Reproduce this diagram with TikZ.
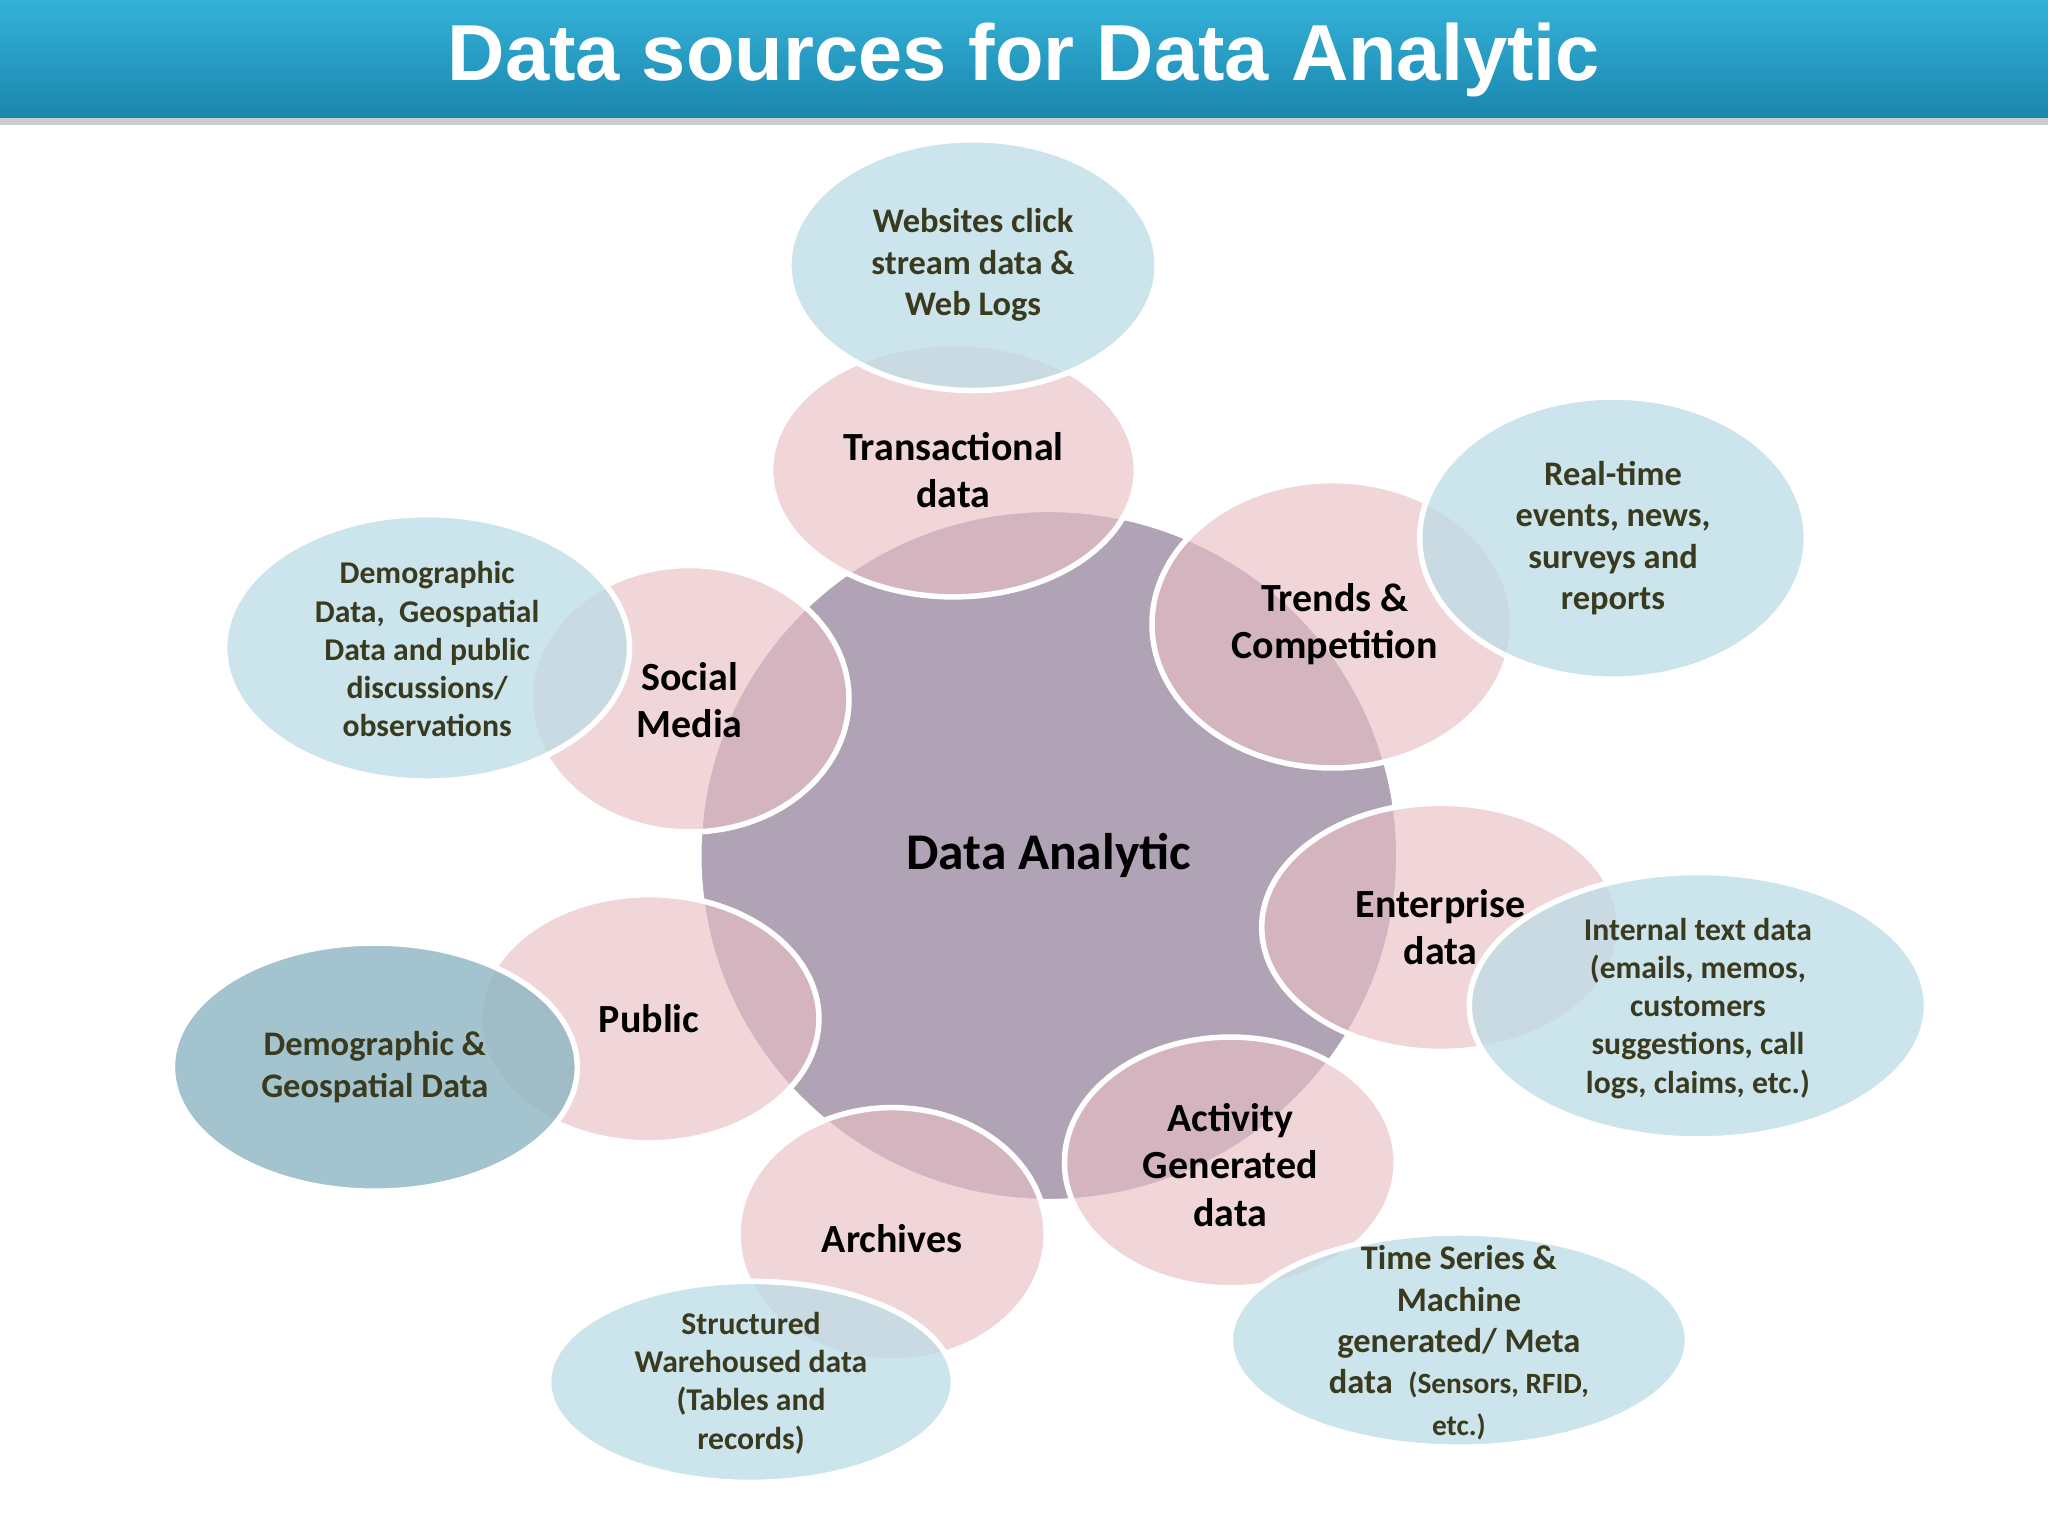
\documentclass[tikz,border=0pt]{standalone}
\usepackage{fontspec}
\setmainfont{Carlito}
\newfontfamily\titlefont{Liberation Sans}
\definecolor{pinkf}{HTML}{E8BFC5}
\definecolor{bluef}{HTML}{BCDCE6}
\definecolor{blued}{HTML}{8DB6C3}
\definecolor{centerf}{HTML}{AFA3B5}
\definecolor{olive}{HTML}{3A3A1E}
\definecolor{barA}{HTML}{35B2D8}
\definecolor{barB}{HTML}{1A86AE}
\begin{document}
\begin{tikzpicture}[x=0.01cm,y=-0.01cm,
  pinkel/.style={draw=white,line width=1.2pt,fill=pinkf,fill opacity=0.65,text opacity=1,font=\bfseries\fontsize{8.7}{10.3}\selectfont,text=black,align=center},
  blueel/.style={draw=white,line width=1.2pt,fill=bluef,fill opacity=0.75,text opacity=1,font=\bfseries\fontsize{7.5}{9}\selectfont,text=olive,align=center},
  smallt/.style={font=\bfseries\fontsize{6.9}{8.3}\selectfont}]
\useasboundingbox (0,0) rectangle (1568,1176);
\fill[white] (0,0) rectangle (1568,1176);
\shade[top color=barA,bottom color=barB] (0,0) rectangle (1568,90);
\fill[gray!40] (0,90) rectangle (1568,96);
\node[text=white,font=\titlefont\bfseries\fontsize{17.3}{20}\selectfont] (title) at (784,46) {Data sources for Data Analytic};
% center
\fill[centerf,draw=white,line width=1.2pt] (803,655) ellipse [x radius=268,y radius=265];
\node[font=\bfseries\fontsize{11.2}{13}\selectfont] (c) at (803,655) {Data Analytic};
% pinks
\fill[pinkel] (730,360) ellipse [x radius=140,y radius=97];
\node[pinkel,draw=none,fill=none] (t) at (730,360) {Transactional\\data};
\fill[pinkel] (1020,478) ellipse [x radius=138,y radius=110];
\node[pinkel,draw=none,fill=none] (tr) at (1022,478) {Trends \&\\Competition};
\fill[pinkel] (528,535) ellipse [x radius=122,y radius=102];
\node[pinkel,draw=none,fill=none] (s) at (528,536) {Social\\Media};
\fill[pinkel] (1103,710) ellipse [x radius=137,y radius=95];
\node[pinkel,draw=none,fill=none] (e) at (1103,710) {Enterprise\\data};
\fill[pinkel] (942,890) ellipse [x radius=127,y radius=96];
\node[pinkel,draw=none,fill=none] (a) at (942,892) {Activity\\Generated\\data};
\fill[pinkel] (683,945) ellipse [x radius=118,y radius=97];
\node[pinkel,draw=none,fill=none] (ar) at (683,948) {Archives};
\fill[pinkel] (497,780) ellipse [x radius=130,y radius=95];
\node[pinkel,draw=none,fill=none] (p) at (497,780) {Public};
% blues
\fill[blueel] (745,203) ellipse [x radius=141,y radius=96];
\node[blueel,draw=none,fill=none] (w) at (745,203) {Websites click\\stream data \&\\Web Logs};
\fill[blueel] (1235,412) ellipse [x radius=148,y radius=108];
\node[blueel,draw=none,fill=none] (r) at (1235,412) {Real-time\\events, news,\\surveys and\\reports};
\fill[blueel] (327,496) ellipse [x radius=155,y radius=102];
\node[blueel,draw=none,fill=none,smallt] (d) at (327,497) {Demographic\\Data,\ \ Geospatial\\Data and public\\discussions/\\observations};
\fill[blueel] (1300,770) ellipse [x radius=175,y radius=102];
\node[blueel,draw=none,fill=none,smallt] (i) at (1300,772) {Internal text data\\(emails, memos,\\customers\\suggestions, call\\logs, claims, etc.)};
\fill[blueel] (1117,1026) ellipse [x radius=175,y radius=82];
\node[blueel,draw=none,fill=none] (ts) at (1117,1028) {Time Series \&\\Machine\\generated/ Meta\\data\ \ {\fontsize{6.4}{9}\selectfont(Sensors, RFID,}\\{\fontsize{6.4}{9}\selectfont etc.)}};
\fill[blueel] (575,1058) ellipse [x radius=155,y radius=77];
\node[blueel,draw=none,fill=none,smallt] (st) at (575,1059) {Structured\\Warehoused data\\(Tables and\\records)};
\fill[blueel,fill=blued,fill opacity=0.8] (287,817) ellipse [x radius=155,y radius=95];
\node[blueel,draw=none,fill=none] (dg) at (287,817) {Demographic \&\\Geospatial Data};
\end{tikzpicture}
\end{document}
